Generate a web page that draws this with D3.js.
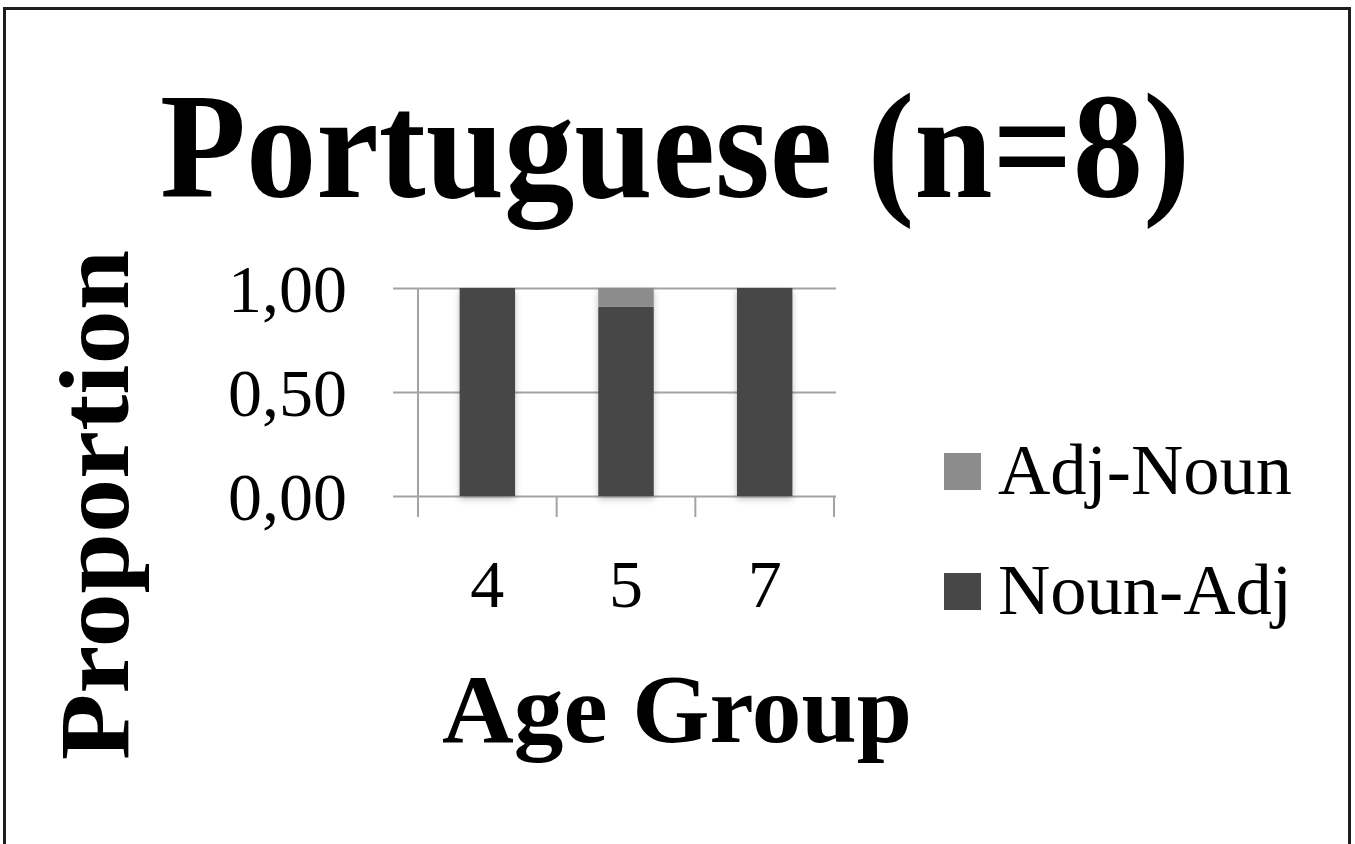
<!DOCTYPE html>
<html>
<head>
<meta charset="utf-8">
<script src="https://cdn.jsdelivr.net/npm/d3@7"></script>
<style>
  html, body { margin: 0; padding: 0; background: #fff; }
  svg { display: block; }
  text { font-family: "Liberation Serif", "DejaVu Serif", serif; fill: #000; }
</style>
</head>
<body>
<div id="chart"></div>
<script>
// data
var ages = ["4", "5", "7"];
var nounAdj = [1.00, 0.91, 1.00];
var adjNoun = [0.00, 0.09, 0.00];
var seriesNames = ["Noun-Adj", "Adj-Noun"];
var seriesColors = ["#474747", "#8c8c8c"];
var yTicks = [0, 0.5, 1];

var width = 1355;
var height = 844;

var svg = d3.select("#chart").append("svg")
    .attr("width", width)
    .attr("height", height);

// frame (open at the bottom)
svg.append("rect")
    .attr("x", 4.5).attr("y", 8.5)
    .attr("width", 1345).attr("height", 900)
    .attr("fill", "none")
    .attr("stroke", "#1e1e1e")
    .attr("stroke-width", 3);

var defs = svg.append("defs");
var f = defs.append("filter").attr("id", "shadow")
    .attr("x", "-20%").attr("y", "-10%").attr("width", "140%").attr("height", "130%");
f.append("feDropShadow")
    .attr("dx", 0).attr("dy", 3).attr("stdDeviation", 3)
    .attr("flood-color", "#000").attr("flood-opacity", 0.25);

//
// Scales
//
var plotLeft = 418, plotRight = 834, gridLeft = 393, gridRight = 836;
var y = d3.scaleLinear().domain([0, 1]).range([496, 288]);
var x = d3.scaleBand().domain(ages).range([plotLeft, plotRight]).padding(0);

// gridlines + y tick labels
var yAxis = d3.axisLeft(y)
    .tickValues(yTicks)
    .tickSize(-(gridRight - gridLeft))
    .tickPadding(46)
    .tickFormat(function(d) { return d3.format(".2f")(d).replace(".", ","); });

var gy = svg.append("g")
    .attr("transform", "translate(" + gridLeft + ",0)")
    .call(yAxis);
gy.select(".domain").remove();
gy.selectAll("line").attr("stroke", "#a3a3a3").attr("stroke-width", 2);
gy.selectAll("text")
    .style("font-family", "'Liberation Serif', serif")
    .style("font-size", "68px")
    .attr("fill", "#000")
    .attr("dy", "0.34em");

// y axis line
svg.append("line")
    .attr("x1", plotLeft).attr("x2", plotLeft)
    .attr("y1", y(1)).attr("y2", y(0) + 21)
    .attr("stroke", "#a3a3a3").attr("stroke-width", 2);

// category tick marks at band edges
var edges = ages.slice(1).map(function(a) { return x(a); }).concat([x.range()[1]]);
svg.selectAll(".ctick").data(edges).enter().append("line")
    .attr("x1", function(d) { return d; }).attr("x2", function(d) { return d; })
    .attr("y1", y(0)).attr("y2", y(0) + 21)
    .attr("stroke", "#a3a3a3").attr("stroke-width", 2);

// stacked bars
var rows = ages.map(function(a, i) {
    return { age: a, "Noun-Adj": nounAdj[i], "Adj-Noun": adjNoun[i] };
});
var stacked = d3.stack().keys(seriesNames)(rows);
var barW = x.bandwidth() * 0.4;

var layers = svg.append("g").attr("filter", "url(#shadow)")
    .selectAll("g").data(stacked).enter().append("g")
    .attr("fill", function(d, i) { return seriesColors[i]; });

layers.selectAll("rect").data(function(d) { return d; }).enter().append("rect")
    .attr("x", function(d) { return x(d.data.age) + (x.bandwidth() - barW) / 2; })
    .attr("width", barW)
    .attr("y", function(d) { return y(d[1]); })
    .attr("height", function(d) { return y(d[0]) - y(d[1]); });

// category labels
svg.selectAll(".clabel").data(ages).enter().append("text")
    .attr("x", function(d) { return x(d) + x.bandwidth() / 2; })
    .attr("y", 607)
    .attr("text-anchor", "middle")
    .style("font-size", "68px")
    .text(function(d) { return d; });

// title
svg.append("text")
    .attr("x", 675).attr("y", 197)
    .attr("text-anchor", "middle")
    .attr("textLength", 1030).attr("lengthAdjust", "spacingAndGlyphs")
    .style("font-size", "150px").style("font-weight", "bold")
    .text("Portuguese (n=8)");

// axis titles
svg.append("text")
    .attr("transform", "translate(128,505) rotate(-90)")
    .attr("text-anchor", "middle")
    .attr("textLength", 510).attr("lengthAdjust", "spacingAndGlyphs")
    .style("font-size", "100px").style("font-weight", "bold")
    .text("Proportion");

svg.append("text")
    .attr("x", 677).attr("y", 742)
    .attr("text-anchor", "middle")
    .attr("textLength", 470).attr("lengthAdjust", "spacingAndGlyphs")
    .style("font-size", "97px").style("font-weight", "bold")
    .text("Age Group");

// legend (Adj-Noun on top)
var legendItems = [
    { name: "Adj-Noun", color: seriesColors[1], y: 453 },
    { name: "Noun-Adj", color: seriesColors[0], y: 573 }
];
var lg = svg.selectAll(".legend").data(legendItems).enter().append("g");
lg.append("rect")
    .attr("x", 944).attr("y", function(d) { return d.y; })
    .attr("width", 37).attr("height", 37)
    .attr("fill", function(d) { return d.color; });
lg.append("text")
    .attr("x", 998).attr("y", function(d) { return d.y + 41; })
    .attr("textLength", 294).attr("lengthAdjust", "spacingAndGlyphs")
    .style("font-size", "72px")
    .text(function(d) { return d.name; });
</script>
</body>
</html>
